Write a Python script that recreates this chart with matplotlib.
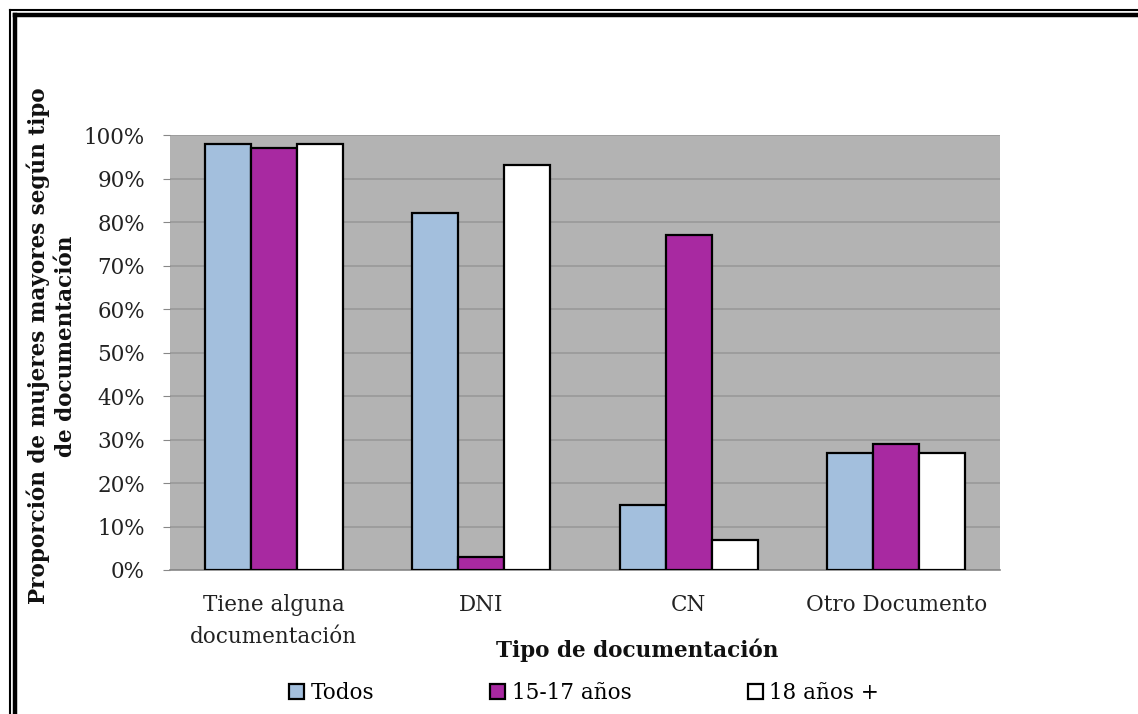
import matplotlib.pyplot as plt
import numpy as np
from matplotlib.lines import Line2D
from matplotlib.patches import Patch
from matplotlib.font_manager import FontProperties

categorias = ['Tiene alguna\ndocumentación', 'DNI', 'CN', 'Otro Documento']
series = ['Todos', '15-17 años', '18 años +']
todos = [98, 82, 15, 27]
jovenes = [97, 3, 77, 29]
mayores = [98, 93, 7, 27]
colores = ['#a3bfdd', '#a829a1', '#ffffff']

plt.rcParams['font.family'] = 'serif'
plt.rcParams['font.serif'] = ['DejaVu Serif']

fig = plt.figure(figsize=(11.38, 7.14), dpi=100)
ax = fig.add_axes([170 / 1138, 1 - 570 / 714, 830 / 1138, 435 / 714])
ax.set_facecolor('#b3b3b3')

x = np.arange(len(categorias))
w = 1 / 4.5
for i, (vals, col, lab) in enumerate(zip([todos, jovenes, mayores], colores, series)):
    ax.bar(x + (i - 1) * w, vals, width=w, color=col, edgecolor='black',
           linewidth=1.6, label=lab, zorder=3)

ax.set_xlim(-0.5, len(categorias) - 0.5)
ax.set_ylim(0, 100)
ax.set_yticks(range(0, 101, 10))
ax.set_yticklabels([f'{v}%' for v in range(0, 101, 10)], fontsize=15.5, color='#222222')
ax.set_xticks(x)
ax.set_xticklabels(categorias, fontsize=15.5, color='#222222', linespacing=1.6)
ax.tick_params(axis='y', length=5, color='#888888', pad=13)
ax.tick_params(axis='x', length=0, pad=17)
ax.yaxis.grid(True, color='#999999', linewidth=1.2, zorder=0)
ax.set_axisbelow(True)
for s in ['top', 'right', 'left']:
    ax.spines[s].set_visible(False)
ax.spines['bottom'].set_color('#888888')
ax.spines['bottom'].set_linewidth(1.2)

fig.text(52 / 1138, 1 - 346 / 714,
         'Proporción de mujeres mayores según tipo\nde documentación',
         rotation=90, ha='center', va='center', multialignment='center',
         fontsize=15.5, fontweight='bold', color='#111111', linespacing=1.3)
fig.text(637 / 1138, 1 - 657 / 714, 'Tipo de documentación', ha='center', va='baseline',
         fontsize=15.5, fontweight='bold', color='#111111')

handles = [Patch(facecolor=c, edgecolor='black', linewidth=1.6) for c in colores]
fig.legend(handles, series, loc='center', bbox_to_anchor=(584 / 1138, 1 - 693 / 714),
           ncol=3, frameon=False, prop=FontProperties(family='DejaVu Serif', size=15.5),
           handlelength=0.7, handleheight=0.7, handletextpad=0.3, columnspacing=5.4,
           borderaxespad=0, borderpad=0)

# marco doble
for pos, lw in [(9.5, 1.5), (15, 3.2)]:
    fig.add_artist(Line2D([pos / 1138, 1.0], [1 - pos / 714, 1 - pos / 714],
                          color='black', linewidth=lw, transform=fig.transFigure))
    fig.add_artist(Line2D([pos / 1138, pos / 1138], [0.0, 1 - pos / 714],
                          color='black', linewidth=lw, transform=fig.transFigure))

fig.savefig('out.png', dpi=100)
